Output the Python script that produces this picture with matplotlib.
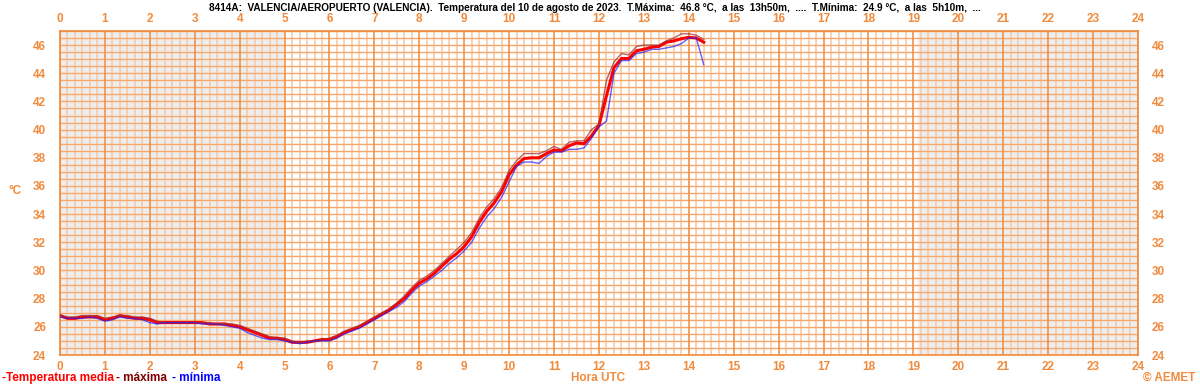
import matplotlib
matplotlib.use("Agg")
import matplotlib.pyplot as plt
import numpy as np

# Datos (cada 10 minutos desde 00:00 UTC)
media = [26.8, 26.6, 26.6, 26.7, 26.7, 26.7,
         26.5, 26.6, 26.8, 26.7, 26.6, 26.6,
         26.5, 26.3, 26.3, 26.3, 26.3, 26.3,
         26.3, 26.3, 26.2, 26.2, 26.2, 26.1,
         26.0, 25.8, 25.6, 25.4, 25.2, 25.2,
         25.1, 24.9, 24.9, 24.9, 25.0, 25.1,
         25.1, 25.3, 25.6, 25.8, 26.0, 26.3,
         26.6, 26.9, 27.2, 27.6, 28.0, 28.6,
         29.1, 29.4, 29.8, 30.3, 30.8, 31.2,
         31.7, 32.4, 33.4, 34.2, 34.8, 35.6,
         36.8, 37.5, 37.95, 38.0, 38.0, 38.3,
         38.55, 38.5, 38.85, 39.05, 39.0, 39.55,
         40.3, 42.4, 44.4, 45.05, 45.05, 45.6,
         45.7, 45.85, 45.9, 46.2, 46.3, 46.45,
         46.55, 46.5, 46.2]
maxima = [26.8, 26.7, 26.7, 26.8, 26.8, 26.8,
          26.6, 26.7, 26.8, 26.8, 26.7, 26.7,
          26.6, 26.4, 26.3, 26.3, 26.3, 26.3,
          26.3, 26.3, 26.3, 26.2, 26.2, 26.2,
          26.1, 25.9, 25.7, 25.5, 25.3, 25.2,
          25.2, 25.0, 24.9, 25.0, 25.0, 25.1,
          25.2, 25.4, 25.7, 25.9, 26.1, 26.4,
          26.7, 27.0, 27.3, 27.7, 28.2, 28.8,
          29.3, 29.6, 30.0, 30.5, 31.0, 31.5,
          32.0, 32.7, 33.7, 34.5, 35.1, 35.9,
          37.1, 37.8, 38.3, 38.3, 38.3, 38.5,
          38.8, 38.6, 39.1, 39.2, 39.2, 40.0,
          40.4, 43.5, 44.8, 45.4, 45.3, 45.9,
          46.0, 46.0, 46.0, 46.3, 46.5, 46.8,
          46.8, 46.7, 46.4]
minima = [26.7, 26.6, 26.6, 26.6, 26.7, 26.6,
          26.4, 26.5, 26.7, 26.6, 26.6, 26.5,
          26.3, 26.2, 26.3, 26.3, 26.3, 26.3,
          26.3, 26.2, 26.2, 26.2, 26.1, 26.0,
          25.9, 25.6, 25.4, 25.2, 25.1, 25.1,
          25.0, 24.9, 24.8, 24.9, 25.0, 25.0,
          25.0, 25.2, 25.5, 25.7, 25.9, 26.2,
          26.5, 26.8, 27.1, 27.4, 27.8, 28.4,
          28.9, 29.2, 29.6, 30.0, 30.5, 30.9,
          31.4, 32.0, 33.0, 33.8, 34.4, 35.2,
          36.3, 37.4, 37.7, 37.7, 37.6, 38.1,
          38.4, 38.4, 38.6, 38.6, 38.7, 39.4,
          40.2, 40.6, 44.0, 44.9, 44.9, 45.4,
          45.5, 45.7, 45.7, 45.8, 45.9, 46.1,
          46.5, 46.5, 44.6]
horas = np.arange(len(media)) / 6.0

noche = [(0, 5.0), (19.1, 24)]
titulo = ("8414A:  VALENCIA/AEROPUERTO (VALENCIA).  Temperatura del 10 de agosto de 2023.  "
          "T.Máxima:  46.8 °C,  a las  13h50m,  ....  T.Mínima:  24.9 °C,  a las  5h10m,  ...")

naranja = '#f08a3c'
plt.rcParams['font.family'] = ['Liberation Sans', 'DejaVu Sans']

fig = plt.figure(figsize=(12, 3.86), dpi=100)
ax = fig.add_axes([0.05, 0.0803, 0.8983, 0.8394])

for a, b in noche:
    ax.axvspan(a, b, color='#eeeeee', zorder=0, lw=0)

# rejilla
for x in np.arange(0, 24.01, 1/6):
    if abs(x - round(x)) < 1e-6:
        continue
    ax.axvline(x, color='#f9cba8', lw=1.2, zorder=1)
for x in range(0, 25):
    ax.axvline(x, color=naranja, lw=1.1, zorder=2)
for y in np.arange(24, 47.01, 0.5):
    ax.axhline(y, color='#f4a86e', lw=1.0, zorder=1.5)

ax.plot(horas, media, color='red', lw=2.2, zorder=4)
ax.plot(horas, maxima, color='#a03030', lw=1, alpha=0.75, zorder=5)
ax.plot(horas, minima, color='#2020ff', lw=1, alpha=0.7, zorder=5)

ax.set_xlim(0, 24)
ax.set_ylim(24, 47)
ax.set_xticks(range(0, 25))
ax.set_yticks(range(24, 47, 2))
ax.tick_params(length=0, labelcolor=naranja, labelsize=8.5, pad=4,
               top=True, labeltop=True, right=True, labelright=True)
for lab in ax.get_xticklabels() + ax.get_yticklabels():
    lab.set_fontweight('bold')
ax.tick_params(axis='y', pad=10)
for s in ax.spines.values():
    s.set_color(naranja)
    s.set_linewidth(1.2)

fig.text(0.496, 0.978, titulo, ha='center', va='center', fontsize=7.2, fontweight='bold')
fig.text(0.007, 0.505, '°C', ha='left', va='center', fontsize=8.5, color=naranja, fontweight='bold')
fig.text(0.498, 0.021, 'Hora UTC', ha='center', va='center', fontsize=8.5, color=naranja, fontweight='bold')
fig.text(0.996, 0.021, '© AEMET', ha='right', va='center', fontsize=8.5, color=naranja, fontweight='bold')
fig.text(0.002, 0.021, '-Temperatura media', ha='left', va='center', fontsize=8.5, color='red', fontweight='bold')
fig.text(0.0967, 0.021, '- máxima', ha='left', va='center', fontsize=8.5, color='#800000', fontweight='bold')
fig.text(0.1433, 0.021, '- mínima', ha='left', va='center', fontsize=8.5, color='#0000ff', fontweight='bold')

fig.savefig('out.png', dpi=100)
